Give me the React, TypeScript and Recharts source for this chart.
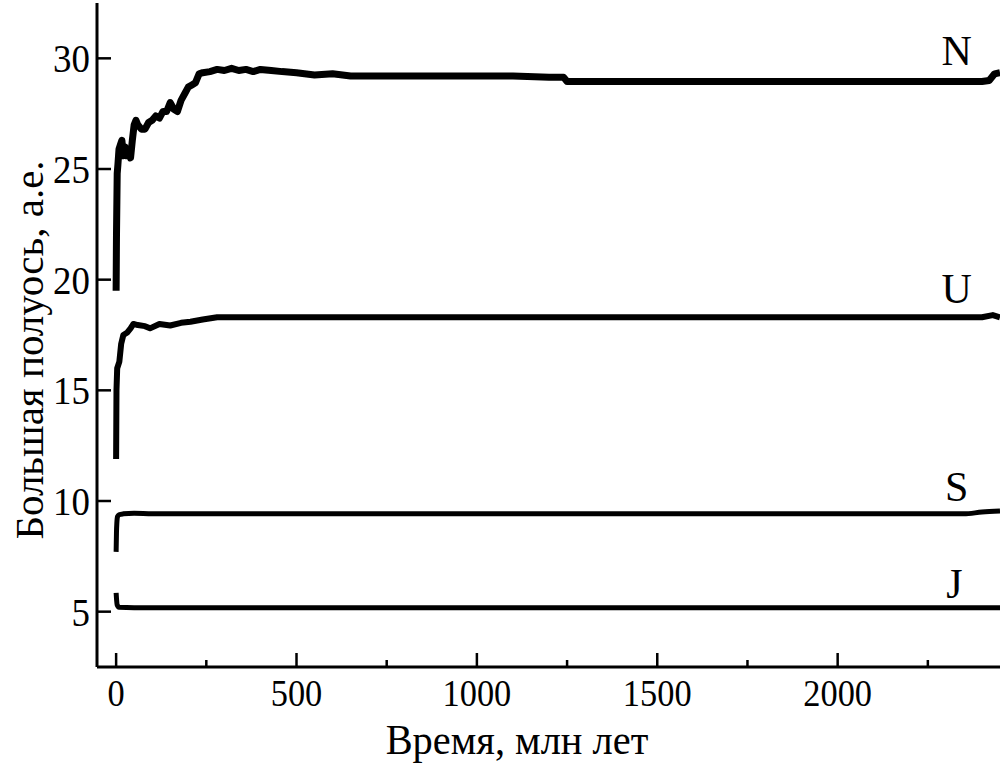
import React from 'react';
import { LineChart, Line, XAxis, YAxis, ReferenceDot, Label } from 'recharts';

const FONT = '"Liberation Serif", "Times New Roman", serif';

// time, Myr, and semi-major axis, AU
const nT = [0, 1, 3, 5, 8, 12, 16, 20, 25, 30, 35, 40, 45, 50, 55, 60, 70, 80, 90, 100, 110, 120, 130, 140, 150, 160, 170, 180, 190, 200, 210, 220, 230, 240, 260, 280, 300, 320, 340, 360, 380, 400, 430, 460, 500, 550, 600, 650, 700, 800, 900, 1000, 1100, 1200, 1240, 1250, 1300, 1500, 1800, 2100, 2400, 2420, 2435, 2450];
const nA = [19.5, 22, 24.8, 25.2, 25.9, 26.1, 26.3, 25.6, 26.0, 25.6, 25.9, 25.5, 26.3, 27.0, 27.2, 27.0, 26.8, 26.8, 27.1, 27.2, 27.4, 27.3, 27.6, 27.6, 28.0, 27.7, 27.6, 28.1, 28.4, 28.7, 28.8, 28.9, 29.3, 29.35, 29.4, 29.5, 29.45, 29.55, 29.45, 29.5, 29.4, 29.5, 29.45, 29.4, 29.35, 29.25, 29.3, 29.2, 29.2, 29.2, 29.2, 29.2, 29.2, 29.15, 29.15, 28.95, 28.95, 28.95, 28.95, 28.95, 28.95, 29.0, 29.3, 29.35];

const uT = [0, 1, 3, 9, 14, 20, 30, 40, 48, 60, 80, 94, 120, 150, 180, 206, 240, 280, 320, 400, 600, 1000, 1500, 2000, 2400, 2430, 2450];
const uA = [11.9, 15.0, 16.0, 16.3, 17.1, 17.5, 17.6, 17.8, 18.0, 17.95, 17.9, 17.8, 18.0, 17.93, 18.05, 18.1, 18.2, 18.3, 18.3, 18.3, 18.3, 18.3, 18.3, 18.3, 18.3, 18.4, 18.3];

const sT = [0, 1, 2, 4, 8, 20, 50, 100, 200, 500, 1000, 2000, 2350, 2400, 2450];
const sA = [7.7, 8.6, 9.0, 9.3, 9.38, 9.42, 9.45, 9.42, 9.42, 9.42, 9.42, 9.42, 9.42, 9.5, 9.55];

const jT = [0, 1, 3, 8, 50, 500, 1000, 2000, 2450];
const jA = [5.85, 5.6, 5.3, 5.2, 5.18, 5.18, 5.18, 5.18, 5.18];

const labelNames = ['N', 'U', 'S', 'J'];
const labelT = [2330, 2330, 2330, 2324];
const labelA = [30.36, 19.64, 10.68, 6.31];

const xTicks = [0, 250, 500, 750, 1000, 1250, 1500, 1750, 2000, 2250];
const yTicks = [5, 10, 15, 20, 25, 30];

const toRows = (t: number[], a: number[]) => t.map((v, i) => ({ t: v, a: a[i] }));
const nData = toRows(nT, nA);
const uData = toRows(uT, uA);
const sData = toRows(sT, sA);
const jData = toRows(jT, jA);

function XTick(props: any) {
  const { x, y, payload } = props;
  const major = payload.value % 500 === 0;
  return (
    <g>
      <line x1={x} x2={x} y1={y} y2={y - (major ? 14 : 7)} stroke="#000" strokeWidth={2.5} />
      {major && (
        <text transform={`translate(${x},${y + 39}) scale(0.93,1)`} textAnchor="middle" fontSize={37} fontFamily={FONT} fill="#000">
          {payload.value}
        </text>
      )}
    </g>
  );
}

function YTick(props: any) {
  const { x, y, payload } = props;
  return (
    <g>
      <line x1={x} x2={x + 14} y1={y} y2={y} stroke="#000" strokeWidth={2.5} />
      <text transform={`translate(${x - 7},${y + 14}) scale(0.9,1)`} textAnchor="end" fontSize={41} fontFamily={FONT} fill="#000">
        {payload.value}
      </text>
    </g>
  );
}

export default function App() {
  return (
    <div style={{ position: 'absolute', left: 0, top: 0, background: '#fff' }}>
      <LineChart width={1004} height={766} margin={{ top: 3, right: 4, left: 0, bottom: 0 }}>
        <XAxis
          dataKey="t"
          type="number"
          domain={[-53, 2450]}
          ticks={xTicks}
          interval={0}
          allowDataOverflow
          height={99}
          tickSize={0}
          tickMargin={0}
          tickLine={false}
          tick={<XTick />}
          axisLine={{ stroke: '#000', strokeWidth: 3 }}
        >
          <Label
            content={() => (
              <text transform="translate(517,754) scale(0.94,1)" textAnchor="middle" fontSize={43} fontFamily={FONT} fill="#000">
                Время, млн лет
              </text>
            )}
          />
        </XAxis>
        <YAxis
          type="number"
          domain={[2.5, 32.5]}
          ticks={yTicks}
          interval={0}
          allowDataOverflow
          width={97}
          tickSize={0}
          tickMargin={0}
          tickLine={false}
          tick={<YTick />}
          axisLine={{ stroke: '#000', strokeWidth: 3 }}
        >
          <Label
            content={() => (
              <text transform="translate(43,350) rotate(-90)" textAnchor="middle" fontSize={41} fontFamily={FONT} fill="#000">
                Большая полуось, а.е.
              </text>
            )}
          />
        </YAxis>
        <Line data={nData} dataKey="a" type="linear" stroke="#000" strokeWidth={7} dot={false} strokeLinejoin="round" isAnimationActive={false} />
        <Line data={uData} dataKey="a" type="linear" stroke="#000" strokeWidth={6} dot={false} strokeLinejoin="round" isAnimationActive={false} />
        <Line data={sData} dataKey="a" type="monotone" stroke="#000" strokeWidth={5} dot={false} strokeLinejoin="round" isAnimationActive={false} />
        <Line data={jData} dataKey="a" type="monotone" stroke="#000" strokeWidth={5} dot={false} strokeLinejoin="round" isAnimationActive={false} />
        {labelNames.map((name, i) => (
          <ReferenceDot
            key={name}
            x={labelT[i]}
            y={labelA[i]}
            r={0}
            fill="none"
            stroke="none"
            label={{ value: name, position: 'center', fontSize: 42, fontFamily: FONT, fill: '#000' }}
          />
        ))}
      </LineChart>
    </div>
  );
}
